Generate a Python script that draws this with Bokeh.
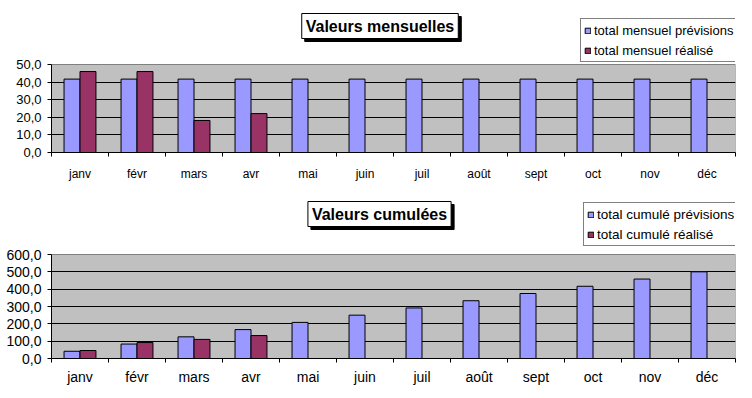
from bokeh.plotting import figure
from bokeh.models import (Range1d, LinearAxis, FixedTicker, Legend,
                          LegendItem, Label, ColumnDataSource, CustomJSTickFormatter)
from bokeh.transform import dodge
from bokeh.layouts import column
from bokeh.embed import file_html
from bokeh.resources import INLINE

# ---------------- data ----------------
months = ["janv", "févr", "mars", "avr", "mai", "juin", "juil", "août", "sept", "oct", "nov", "déc"]

mensuel_prev = [41.7, 41.7, 41.7, 41.7, 41.7, 41.7, 41.7, 41.7, 41.7, 41.7, 41.7, 41.7]
mensuel_real = [46.0, 46.0, 18.2, 22.1]

cumul_prev = [41.7, 83.3, 125.0, 166.7, 208.3, 250.0, 291.7, 333.3, 375.0, 416.7, 458.3, 500.0]
cumul_real = [46.0, 92.0, 110.2, 132.3]

mensuel_ticks = [0, 10, 20, 30, 40, 50]
mensuel_tick_labels = ["0,0", "10,0", "20,0", "30,0", "40,0", "50,0"]
cumul_ticks = [0, 100, 200, 300, 400, 500, 600]
cumul_tick_labels = ["0,0", "100,0", "200,0", "300,0", "400,0", "500,0", "600,0"]

BLUE = "#9999FF"
PLUM = "#993366"
FONT = "Liberation Sans"

# category slots: month i occupies [i, i+1] on the x scale
centers = [i + 0.5 for i in range(len(months))]
bounds = list(range(len(months) + 1))


def make_chart(title, prev, real, ticks, tick_labels, leg_prev, leg_real,
               height, mb_left, mb_bottom, area_h, tick_fs, cat_fs, leg_fs, cat_standoff,
               title_xy, legend_loc, leg_label_h):
    frame_h = height - mb_bottom
    # the frame also holds title and legend; the grey plot area is the lower area_h px
    y_end = ticks[-1] * frame_h / area_h
    p = figure(width=744, height=height, output_backend="svg", toolbar_location=None,
               x_range=Range1d(0, len(months)),
               y_range=Range1d(ticks[0], y_end),
               x_axis_type=None,
               min_border_left=mb_left, min_border_right=9,
               min_border_top=0, min_border_bottom=mb_bottom)
    p.background_fill_color = "white"
    p.border_fill_color = "white"
    p.outline_line_color = None

    # grey plot area
    p.quad(left=[bounds[0]], right=[bounds[-1]], bottom=[ticks[0]], top=[ticks[-1]],
           fill_color="#C0C0C0", line_color="#808080", line_width=1, level="image")

    # y axis
    ya = p.yaxis[0]
    ya.ticker = FixedTicker(ticks=ticks)
    ya.bounds = (ticks[0], ticks[-1])
    ya.major_label_overrides = {t: l for t, l in zip(ticks, tick_labels)}
    ya.major_tick_out = 4
    ya.major_tick_in = 0
    ya.minor_tick_line_color = None
    ya.axis_line_color = "black"
    ya.major_tick_line_color = "black"
    ya.major_label_text_font = FONT
    ya.major_label_text_font_size = tick_fs
    ya.major_label_text_color = "black"
    ya.major_label_standoff = 6

    p.ygrid.ticker = FixedTicker(ticks=ticks[1:-1])
    p.ygrid.grid_line_color = "black"
    p.ygrid.grid_line_width = 1

    # x axis: labels centered on categories, ticks between categories
    xa = LinearAxis(ticker=FixedTicker(ticks=centers, minor_ticks=bounds),
                    formatter=CustomJSTickFormatter(args=dict(labels=months),
                                                    code="return labels[Math.floor(tick)]"))
    xa.major_tick_line_color = None
    xa.major_tick_out = 0
    xa.major_tick_in = 0
    xa.minor_tick_out = 4
    xa.minor_tick_in = 0
    xa.minor_tick_line_color = "black"
    xa.axis_line_color = "black"
    xa.major_label_text_font = FONT
    xa.major_label_text_font_size = cat_fs
    xa.major_label_text_color = "black"
    xa.major_label_standoff = cat_standoff
    p.add_layout(xa, "below")

    src_prev = ColumnDataSource(dict(x=centers, top=prev))
    src_real = ColumnDataSource(dict(x=centers[:len(real)], top=real))
    r1 = p.vbar(x=dodge("x", -0.14), top="top", width=0.28, source=src_prev,
                fill_color=BLUE, line_color="black", line_width=1)
    r2 = p.vbar(x=dodge("x", 0.14), top="top", width=0.28, source=src_real,
                fill_color=PLUM, line_color="black", line_width=1)

    legend = Legend(items=[LegendItem(label=leg_prev, renderers=[r1]),
                           LegendItem(label=leg_real, renderers=[r2])],
                    location=legend_loc)
    legend.border_line_color = "black"
    legend.border_line_width = 1
    legend.background_fill_color = "white"
    legend.background_fill_alpha = 1
    legend.label_text_font = FONT
    legend.label_text_font_size = leg_fs
    legend.label_text_color = "black"
    legend.glyph_width = 7
    legend.glyph_height = 7
    legend.label_standoff = 3
    legend.label_height = leg_label_h
    legend.padding = 3
    legend.spacing = 4
    legend.margin = 0
    p.add_layout(legend, "center")

    tx, ty = title_xy
    shadow = Label(x=tx + 3, y=ty - 3, x_units="screen", y_units="screen", text=title,
                   text_align="center", text_baseline="middle", text_font=FONT,
                   text_font_size="16px", text_font_style="bold", text_color="black",
                   background_fill_color="black", border_line_color="black", padding=4)
    lab = Label(x=tx, y=ty, x_units="screen", y_units="screen", text=title,
                text_align="center", text_baseline="middle", text_font=FONT,
                text_font_size="16px", text_font_style="bold", text_color="black",
                background_fill_color="white", border_line_color="black", padding=4)
    p.add_layout(shadow)
    p.add_layout(lab)
    return p


p1 = make_chart("Valeurs mensuelles", mensuel_prev, mensuel_real,
                mensuel_ticks, mensuel_tick_labels,
                "total mensuel prévisions", "total mensuel réalisé",
                height=190, mb_left=45, mb_bottom=38, area_h=88,
                tick_fs="13px", cat_fs="12px", leg_fs="13px", cat_standoff=10,
                title_xy=(328.5, 126.5), legend_loc=(529, 90), leg_label_h=16)

p2 = make_chart("Valeurs cumulées", cumul_prev, cumul_real,
                cumul_ticks, cumul_tick_labels,
                "total cumulé prévisions", "total cumulé réalisé",
                height=200, mb_left=51, mb_bottom=32, area_h=104,
                tick_fs="14px", cat_fs="14px", leg_fs="13.5px", cat_standoff=6,
                title_xy=(328, 144.5), legend_loc=(532, 112), leg_label_h=16)

layout = column(p1, p2, spacing=0)
open("out.html", "w").write(file_html(layout, INLINE))
